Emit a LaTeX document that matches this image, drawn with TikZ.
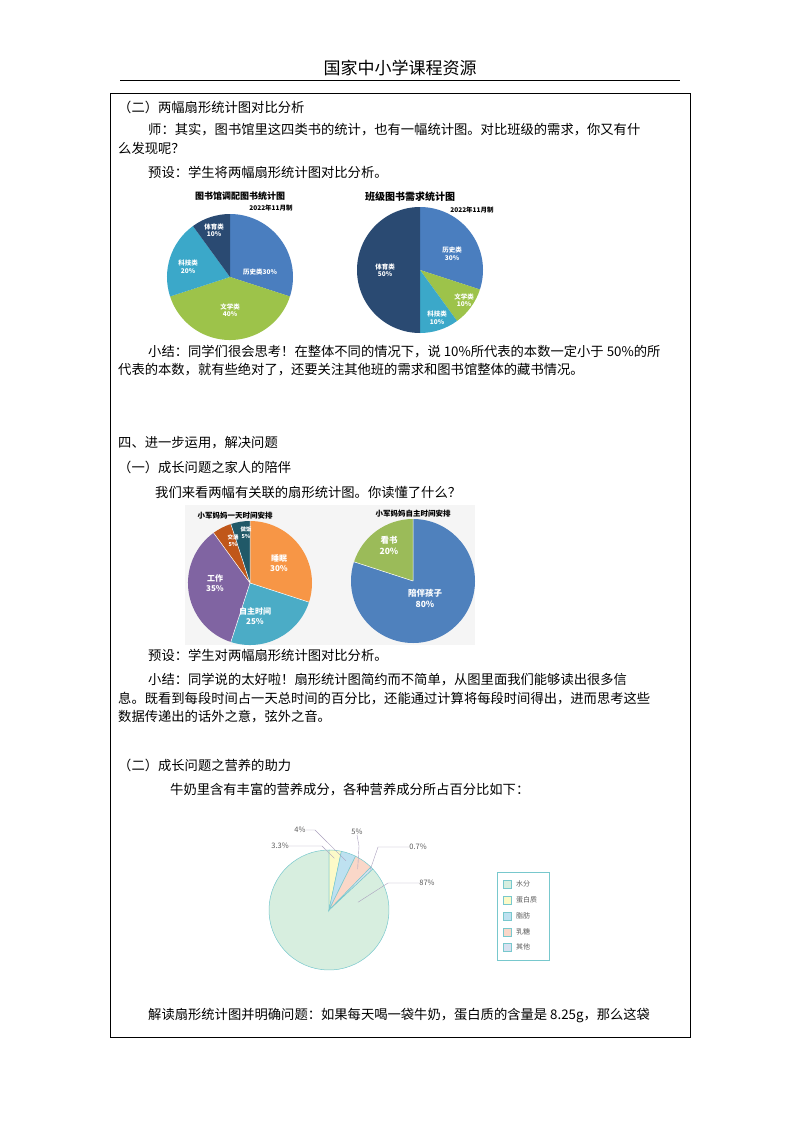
\documentclass[tikz,border=0pt]{standalone}
\usepackage{fontspec}
\setmainfont{Noto Sans CJK SC}
\definecolor{hist}{RGB}{74,126,191}
\definecolor{lit}{RGB}{157,195,74}
\definecolor{sci}{RGB}{59,168,201}
\definecolor{spo}{RGB}{42,74,114}
\definecolor{sleep}{RGB}{247,150,70}
\definecolor{free}{RGB}{75,172,198}
\definecolor{work}{RGB}{128,100,162}
\definecolor{trans}{RGB}{192,87,26}
\definecolor{cook}{RGB}{33,89,104}
\definecolor{kid}{RGB}{79,129,189}
\definecolor{read}{RGB}{155,187,89}
\definecolor{wat}{RGB}{215,238,223}
\definecolor{pro}{RGB}{252,250,200}
\definecolor{fat}{RGB}{190,225,240}
\definecolor{lac}{RGB}{250,215,200}
\definecolor{oth}{RGB}{215,225,240}
\definecolor{edg}{RGB}{120,200,205}
\definecolor{lead}{RGB}{170,160,190}
\begin{document}
\begin{tikzpicture}[x=1pt,y=-1pt,
 txt/.style={anchor=west,inner sep=0,font=\fontsize{13.3}{14}\selectfont},
 pl/.style={font=\fontsize{6.5}{7.5}\selectfont\bfseries,text=white,align=center,inner sep=0},
 ttl/.style={font=\fontsize{9}{10}\selectfont\bfseries,inner sep=0},
 lab/.style={font=\fontsize{7.5}{8}\selectfont,text=black!65,inner sep=0}]
\useasboundingbox[fill=white] (0,0) rectangle (800,1132);
\node[font=\fontsize{17}{18}\selectfont] (hd) at (400,68) {国家中小学课程资源};
\draw[line width=0.8] (120,80) -- (680,80);
\draw[line width=0.6] (110,93) rectangle (690,1037);
\node[txt] (t1) at (118,107) {（二）两幅扇形统计图对比分析};
\node[txt] (t2) at (148,130) {师：其实，图书馆里这四类书的统计，也有一幅统计图。对比班级的需求，你又有什};
\node[txt] (t3) at (118,148) {么发现呢？};
\node[txt] (t4) at (148,172) {预设：学生将两幅扇形统计图对比分析。};
\def\r{63}
\begin{scope}[shift={(230,277)},yscale=-1]
\fill[hist] (0,0) -- (90:\r) arc[start angle=90,end angle=-18,radius=\r] -- cycle;
\fill[lit] (0,0) -- (-18:\r) arc[start angle=-18,end angle=-162,radius=\r] -- cycle;
\fill[sci] (0,0) -- (-162:\r) arc[start angle=-162,end angle=-234,radius=\r] -- cycle;
\fill[spo] (0,0) -- (126:\r) arc[start angle=126,end angle=90,radius=\r] -- cycle;
\node[pl] (a1) at (30,5) {历史类30\%};
\node[pl] (a2) at (0,-33) {文学类\\40\%};
\node[pl] (a3) at (-42,10) {科技类\\20\%};
\node[pl] (a4) at (-16,47) {体育类\\10\%};
\end{scope}
\node[ttl] (p1t) at (240,196) {图书馆调配图书统计图};
\node[ttl,font=\fontsize{6.5}{7}\selectfont\bfseries] (p1d) at (271,208) {2022年11月制};
\begin{scope}[shift={(420,270)},yscale=-1]
\fill[hist] (0,0) -- (90:\r) arc[start angle=90,end angle=-18,radius=\r] -- cycle;
\fill[lit] (0,0) -- (-18:\r) arc[start angle=-18,end angle=-54,radius=\r] -- cycle;
\fill[sci] (0,0) -- (-54:\r) arc[start angle=-54,end angle=-90,radius=\r] -- cycle;
\fill[spo] (0,0) -- (-90:\r) arc[start angle=-90,end angle=-270,radius=\r] -- cycle;
\node[pl] (b1) at (32,16) {历史类\\30\%};
\node[pl] (b2) at (44,-30) {文学类\\10\%};
\node[pl] (b3) at (17,-48) {科技类\\10\%};
\node[pl] (b4) at (-35,0) {体育类\\50\%};
\end{scope}
\node[ttl,font=\fontsize{10}{11}\selectfont\bfseries] (p2t) at (410,197) {班级图书需求统计图};
\node[ttl,font=\fontsize{6.5}{7}\selectfont\bfseries] (p2d) at (472,210) {2022年11月制};
\node[txt] (s1) at (148,352) {小结：同学们很会思考！在整体不同的情况下，说 10\%所代表的本数一定小于 50\%的所};
\node[txt] (s2) at (118,370) {代表的本数，就有些绝对了，还要关注其他班的需求和图书馆整体的藏书情况。};
\node[txt] (u1) at (118,443) {四、进一步运用，解决问题};
\node[txt] (u2) at (118,467) {（一）成长问题之家人的陪伴};
\node[txt] (u3) at (155,492) {我们来看两幅有关联的扇形统计图。你读懂了什么？};
\fill[black!4] (185,505) rectangle (475,645);
\def\q{62}
\begin{scope}[shift={(250,583)},yscale=-1]
\fill[sleep] (0,0) -- (90:\q) arc[start angle=90,end angle=-18,radius=\q] -- cycle;
\fill[free] (0,0) -- (-18:\q) arc[start angle=-18,end angle=-108,radius=\q] -- cycle;
\fill[work] (0,0) -- (-108:\q) arc[start angle=-108,end angle=-234,radius=\q] -- cycle;
\fill[trans] (0,0) -- (126:\q) arc[start angle=126,end angle=108,radius=\q] -- cycle;
\fill[cook] (0,0) -- (108:\q) arc[start angle=108,end angle=90,radius=\q] -- cycle;
\draw[white,line width=0.5] (0,0) -- (90:\q) (0,0) -- (-18:\q) (0,0) -- (-108:\q) (0,0) -- (126:\q) (0,0) -- (108:\q);
\node[pl,font=\fontsize{8}{10}\selectfont\bfseries] (c1) at (29,20) {睡眠\\30\%};
\node[pl,font=\fontsize{8}{10}\selectfont\bfseries] (c2) at (5,-33) {自主时间\\25\%};
\node[pl,font=\fontsize{8}{10}\selectfont\bfseries] (c3) at (-35,0) {工作\\35\%};
\node[pl,font=\fontsize{5.5}{7}\selectfont\bfseries] (c4) at (-17,42) {交通\\5\%};
\node[pl,font=\fontsize{5.5}{7}\selectfont\bfseries] (c5) at (-4,50) {做饭\\5\%};
\end{scope}
\node[ttl,font=\fontsize{7.5}{8}\selectfont\bfseries] (p3t) at (235,516) {小军妈妈一天时间安排};
\begin{scope}[shift={(413,581)},yscale=-1]
\fill[kid] (0,0) -- (90:\q) arc[start angle=90,end angle=-198,radius=\q] -- cycle;
\fill[read] (0,0) -- (162:\q) arc[start angle=162,end angle=90,radius=\q] -- cycle;
\draw[white,line width=0.5] (0,0) -- (90:\q) (0,0) -- (162:\q);
\node[pl,font=\fontsize{8.5}{11}\selectfont\bfseries] (d1) at (12,-17) {陪伴孩子\\80\%};
\node[pl,font=\fontsize{8.5}{11}\selectfont\bfseries] (d2) at (-24,36) {看书\\20\%};
\end{scope}
\node[ttl,font=\fontsize{7.5}{8}\selectfont\bfseries] (p4t) at (413,514) {小军妈妈自主时间安排};
\node[txt] (v1) at (148,655) {预设：学生对两幅扇形统计图对比分析。};
\node[txt] (v2) at (148,680) {小结：同学说的太好啦！扇形统计图简约而不简单，从图里面我们能够读出很多信};
\node[txt] (v3) at (118,699) {息。既看到每段时间占一天总时间的百分比，还能通过计算将每段时间得出，进而思考这些};
\node[txt] (v4) at (118,717) {数据传递出的话外之意，弦外之音。};
\node[txt] (w1) at (118,765) {（二）成长问题之营养的助力};
\node[txt] (w2) at (170,790) {牛奶里含有丰富的营养成分，各种营养成分所占百分比如下：};
\def\m{60}
\begin{scope}[shift={(329,910)},yscale=-1,draw=edg,line width=0.5]
\filldraw[fill=wat] (0,0) -- (43.2:\m) arc[start angle=43.2,end angle=-270,radius=\m] -- cycle;
\filldraw[fill=pro] (0,0) -- (90:\m) arc[start angle=90,end angle=78.1,radius=\m] -- cycle;
\filldraw[fill=fat] (0,0) -- (78.1:\m) arc[start angle=78.1,end angle=63.7,radius=\m] -- cycle;
\filldraw[fill=lac] (0,0) -- (63.7:\m) arc[start angle=63.7,end angle=45.7,radius=\m] -- cycle;
\filldraw[fill=oth] (0,0) -- (45.7:\m) arc[start angle=45.7,end angle=43.2,radius=\m] -- cycle;
\coordinate (e1) at (84:52); \coordinate (e2) at (71:52); \coordinate (e3) at (55:50);
\coordinate (e4) at (44.5:58); \coordinate (e5) at (15:30);
\end{scope}
\node[lab] (l1) at (280,846) {3.3\%};
\node[lab] (l2) at (300,830) {4\%};
\node[lab] (l3) at (357,832) {5\%};
\node[lab] (l4) at (418,847) {0.7\%};
\node[lab] (l5) at (427,883) {87\%};
\begin{scope}[draw=lead,line width=0.4]
\draw (l1.east) -- (322,846) -- (e1);
\draw (l2.east) -- (315,830) -- (e2);
\draw (l3.south) -- (359,846) -- (e3);
\draw (l4.west) -- (378,847) -- (e4);
\draw (l5.west) -- (388,883) -- (e5);
\end{scope}
\draw[edg,line width=0.6] (497,872) rectangle (549,960);
\foreach \y/\c/\t [count=\i] in {884/wat/水分,900/pro/蛋白质,916/fat/脂肪,932/lac/乳糖,947/oth/其他}{
 \filldraw[fill=\c,draw=edg,line width=0.5] (503,\y-4) rectangle (511,\y+4);
 \node[lab,anchor=west,font=\fontsize{7}{8}\selectfont] (g\i) at (516,\y) {\t};
}
\node[txt] (z1) at (148,1016) {解读扇形统计图并明确问题：如果每天喝一袋牛奶，蛋白质的含量是 8.25g，那么这袋};
\end{tikzpicture}
\end{document}
